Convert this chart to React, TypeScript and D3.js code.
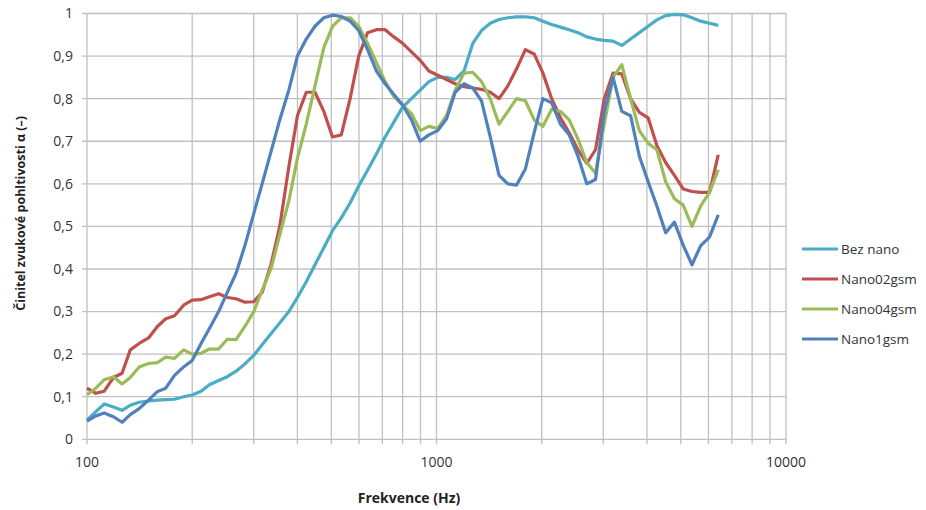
import React from "react";
import * as d3 from "d3";

// frequency points (Hz), 1/12 octave
const freqs = [
  100, 106, 112, 119, 126, 133, 141, 150, 159, 168, 178, 189, 200, 212, 224, 238,
  252, 267, 283, 300, 317, 336, 356, 378, 400, 424, 449, 476, 504, 534, 566, 599,
  635, 673, 713, 755, 800, 848, 898, 951, 1008, 1068, 1131, 1199, 1270, 1345, 1425,
  1510, 1600, 1695, 1796, 1903, 2016, 2136, 2263, 2397, 2540, 2691, 2851, 3020,
  3200, 3390, 3592, 3805, 4032, 4271, 4525, 4795, 5080, 5382, 5702, 6041, 6400,
];

const bezNano = [
  0.045, 0.065, 0.083, 0.076, 0.068, 0.08, 0.087, 0.09, 0.092, 0.093, 0.094, 0.1,
  0.104, 0.113, 0.128, 0.138, 0.147, 0.16, 0.177, 0.197, 0.222, 0.248, 0.273, 0.3,
  0.333, 0.37, 0.41, 0.45, 0.49, 0.52, 0.555, 0.595, 0.632, 0.67, 0.71, 0.745,
  0.78, 0.8, 0.82, 0.84, 0.85, 0.85, 0.845, 0.865, 0.93, 0.96, 0.977, 0.986, 0.99,
  0.992, 0.992, 0.99, 0.982, 0.974, 0.968, 0.962, 0.955, 0.945, 0.94, 0.937,
  0.935, 0.925, 0.94, 0.955, 0.97, 0.985, 0.995, 0.998, 0.997, 0.99, 0.982, 0.977,
  0.972,
];

const nano02 = [
  0.12, 0.108, 0.113, 0.145, 0.155, 0.21, 0.225, 0.238, 0.265, 0.283, 0.29, 0.315,
  0.327, 0.328, 0.335, 0.342, 0.333, 0.33, 0.322, 0.323, 0.345, 0.41, 0.5, 0.64,
  0.76, 0.815, 0.815, 0.77, 0.71, 0.715, 0.8, 0.9, 0.955, 0.962, 0.962, 0.945, 0.93,
  0.91, 0.89, 0.865, 0.855, 0.845, 0.835, 0.828, 0.825, 0.822, 0.815, 0.8, 0.83,
  0.87, 0.915, 0.905, 0.86, 0.8, 0.755, 0.72, 0.68, 0.648, 0.68, 0.8, 0.86, 0.858,
  0.8, 0.768, 0.755, 0.69, 0.65, 0.62, 0.588, 0.582, 0.58, 0.58, 0.668,
];

const nano04 = [
  0.105, 0.12, 0.14, 0.147, 0.13, 0.145, 0.17, 0.178, 0.18, 0.193, 0.19, 0.21, 0.2,
  0.202, 0.212, 0.212, 0.235, 0.234, 0.265, 0.3, 0.35, 0.4, 0.48, 0.56, 0.66, 0.74,
  0.83, 0.92, 0.97, 0.99, 0.99, 0.97, 0.93, 0.885, 0.84, 0.805, 0.785, 0.765, 0.725,
  0.735, 0.73, 0.76, 0.82, 0.86, 0.862, 0.84, 0.8, 0.74, 0.77, 0.8, 0.795, 0.75,
  0.735, 0.775, 0.77, 0.75, 0.705, 0.65, 0.625, 0.74, 0.85, 0.88, 0.8, 0.725,
  0.695, 0.68, 0.605, 0.565, 0.55, 0.5, 0.548, 0.58, 0.633,
];

const nano1 = [
  0.043, 0.055, 0.062, 0.053, 0.04, 0.058, 0.072, 0.092, 0.112, 0.12, 0.15, 0.17,
  0.185, 0.225, 0.26, 0.3, 0.345, 0.39, 0.455, 0.53, 0.6, 0.675, 0.75, 0.82, 0.9,
  0.94, 0.97, 0.99, 0.996, 0.993, 0.982, 0.96, 0.915, 0.865, 0.835, 0.81, 0.785,
  0.75, 0.7, 0.715, 0.725, 0.752, 0.815, 0.835, 0.825, 0.795, 0.71, 0.62, 0.6,
  0.597, 0.635, 0.72, 0.8, 0.79, 0.74, 0.715, 0.665, 0.6, 0.61, 0.77, 0.85, 0.77,
  0.76, 0.665, 0.605, 0.548, 0.485, 0.51, 0.456, 0.41, 0.455, 0.475, 0.527,
];

const seriesNames = ["Bez nano", "Nano02gsm", "Nano04gsm", "Nano1gsm"];
const seriesColors = ["#4BACC6", "#C0504D", "#9BBB59", "#4F81BD"];
const seriesValues = [bezNano, nano02, nano04, nano1];
const xLabels = [100, 1000, 10000];
const yTicks = [0, 0.1, 0.2, 0.3, 0.4, 0.5, 0.6, 0.7, 0.8, 0.9, 1];

const W = 926;
const H = 510;
const font = "'Open Sans', 'DejaVu Sans', sans-serif";

export default function App() {
  const x = d3.scaleLog().domain([100, 10000]).range([87, 786]);
  const y = d3.scaleLinear().domain([0, 1]).range([439.3, 13.5]);
  const fmt = d3.formatLocale({ decimal: ",", thousands: " ", grouping: [3], currency: ["", ""] }).format("~g");

  const line = d3
    .line<number>()
    .x((_, i) => x(freqs[i]))
    .y((d) => y(d));

  const xGrid = x.ticks();
  const [x0, x1] = x.range();
  const [y0, y1] = y.range();

  return (
    <svg
      width={W}
      height={H}
      style={{ position: "absolute", left: 0, top: 0, background: "#fff" }}
      fontFamily={font}
    >
      {/* grid */}
      <g stroke="#c0c0c0" strokeWidth={1.3}>
        {yTicks.map((t) => (
          <line key={"h" + t} x1={x0 - 5} x2={x1} y1={y(t)} y2={y(t)} />
        ))}
        {xGrid.map((t) => (
          <line key={"v" + t} x1={x(t)} x2={x(t)} y1={y1} y2={y0 + 5} />
        ))}
      </g>

      {/* y labels */}
      {yTicks.map((t) => (
        <text key={"yl" + t} x={73} y={y(t)} dy="0.35em" textAnchor="end" fontSize={14} fill="#333">
          {fmt(t)}
        </text>
      ))}
      {xLabels.map((t) => (
        <text key={"xl" + t} x={x(t)} y={467} textAnchor="middle" fontSize={14} fill="#333">
          {t}
        </text>
      ))}

      {/* series */}
      {seriesValues.map((vals, k) => (
        <path
          key={seriesNames[k]}
          d={line(vals) || ""}
          fill="none"
          stroke={seriesColors[k]}
          strokeWidth={3.2}
          strokeLinejoin="round"
        />
      ))}

      {/* axis titles */}
      <text
        transform={`translate(21,${(y0 + y1) / 2 - 13}) rotate(-90)`}
        textAnchor="middle"
        dy="0.35em"
        fontSize={12.5}
        fontWeight="bold"
        fill="#222"
      >
        Činitel zvukové pohltivosti α (–)
      </text>
      <text x={409} y={503} textAnchor="middle" fontSize={14} fontWeight="bold" fill="#222">
        Frekvence (Hz)
      </text>

      {/* legend */}
      {seriesNames.map((name, k) => (
        <g key={"lg" + name} transform={`translate(802,${249 + k * 30})`}>
          <line x1={0} x2={36} y1={0} y2={0} stroke={seriesColors[k]} strokeWidth={3.2} />
          <text x={39} y={0} dy="0.35em" fontSize={13.5} fill="#333">
            {name}
          </text>
        </g>
      ))}
    </svg>
  );
}
